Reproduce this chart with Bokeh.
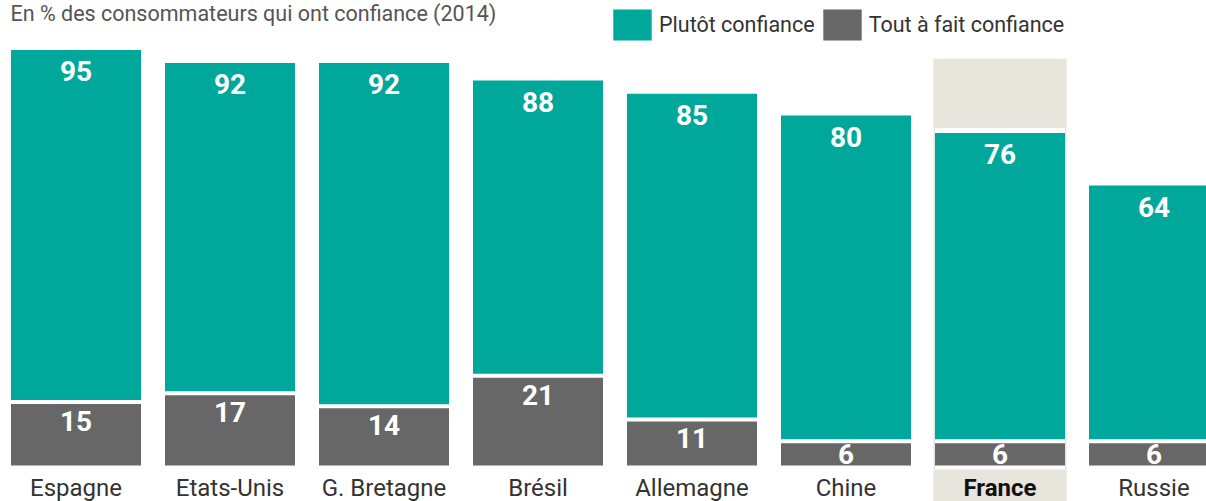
from bokeh.plotting import figure
from bokeh.models import Range1d, ColumnDataSource, Legend, LegendItem, Label
from bokeh.core.properties import value
from bokeh.embed import file_html
from bokeh.resources import INLINE

# ---- data ----
countries = ["Espagne", "Etats-Unis", "G. Bretagne", "Brésil", "Allemagne", "Chine", "France", "Russie"]
total_conf = [95, 92, 92, 88, 85, 80, 76, 64]        # plutôt + tout à fait (label at top)
tout_a_fait = [15, 17, 14, 21, 11, 6, 6, 6]           # tout à fait confiance
highlight = "France"
highlight_top = 93
title_text = "En % des consommateurs qui ont confiance (2014)"
legend_labels = ["Plutôt confiance", "Tout à fait confiance"]

# ---- style ----
TEAL = "#00A89C"
GREY = "#676767"
BEIGE = "#E7E5DC"
FONT = "Roboto"
W, H = 1206, 501
BASE = 465            # pixel row of value 0
PX = 4.375            # pixels per unit on y
X_STEP = 154.0        # pixels per category
X_FIRST = 75.5        # pixel column of first category
BAR_W = 130 / X_STEP
HL_W = 133 / X_STEP

xs = list(range(len(countries)))
gap = 4 / PX
src = ColumnDataSource(dict(
    x=xs,
    name=countries,
    total=total_conf,
    tout=tout_a_fait,
    tout_top=[t - gap for t in tout_a_fait],
    halo_top=[t + 5 / PX for t in total_conf],
    total_lbl=[str(v) for v in total_conf],
    tout_lbl=[str(v) for v in tout_a_fait],
    tout_off=[min(21, v * PX / 2 + 2) for v in tout_a_fait],
    style=["bold" if c == highlight else "normal" for c in countries],
    color=["#111111" if c == highlight else "#333333" for c in countries],
))

x0 = -X_FIRST / X_STEP
p = figure(width=W, height=H, output_backend="svg", toolbar_location=None,
           x_range=Range1d(x0, x0 + W / X_STEP),
           y_range=Range1d(-(H - BASE) / PX, BASE / PX),
           min_border=0, min_border_left=0, min_border_right=0,
           min_border_top=0, min_border_bottom=0)
p.axis.visible = False
p.grid.visible = False
p.outline_line_color = None
p.background_fill_color = "white"
p.border_fill_color = "white"

hi = countries.index(highlight)
p.vbar(x=[hi], width=HL_W, top=[highlight_top], bottom=[-50], fill_color=BEIGE, line_color=None)
p.vbar(x="x", width=BAR_W, top="halo_top", bottom=-4 / PX, source=src, fill_color="white", line_color=None)
r_green = p.vbar(x="x", width=BAR_W, top="total", bottom="tout", source=src, fill_color=TEAL, line_color=None)
r_grey = p.vbar(x="x", width=BAR_W, top="tout_top", bottom=0, source=src, fill_color=GREY, line_color=None)

p.text(x="x", y="total", text="total_lbl", source=src, text_align="center", text_baseline="top",
       y_offset=11, text_color="white", text_font=value(FONT), text_font_style="bold",
       text_font_size="28px")
p.text(x="x", y="tout", text="tout_lbl", source=src, text_align="center", text_baseline="middle",
       y_offset="tout_off", text_color="white", text_font=value(FONT), text_font_style="bold",
       text_font_size="28px")
p.text(x="x", y=0, text="name", source=src, text_align="center", text_baseline="top",
       y_offset=8, text_color="color", text_font=value(FONT), text_font_style="style",
       text_font_size="24px")

p.add_layout(Label(x=10, y=H, x_units="screen", y_units="screen", text=title_text,
                   text_baseline="top", text_align="left", text_color="#555555",
                   text_font=FONT, text_font_size="21.5px"))

legend = Legend(items=[LegendItem(label=legend_labels[0], renderers=[r_green]),
                       LegendItem(label=legend_labels[1], renderers=[r_grey])],
                orientation="horizontal", location=(608, H - 44),
                glyph_width=48, glyph_height=39, label_standoff=3, spacing=3,
                padding=0, margin=0, border_line_color=None, background_fill_alpha=0,
                label_text_font=FONT, label_text_font_size="21.5px", label_text_color="#333333",
                label_height=39)
p.add_layout(legend)

open("out.html", "w").write(file_html(p, INLINE))
